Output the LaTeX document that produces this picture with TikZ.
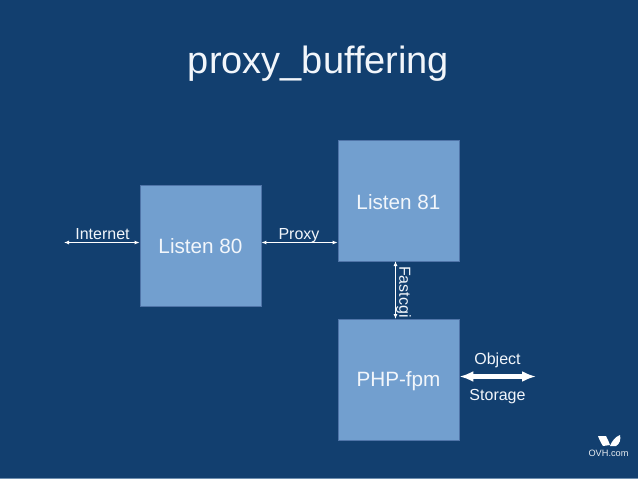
\documentclass[tikz,border=0pt]{standalone}
\usepackage{fontspec}
\setmainfont{Liberation Sans}
\usetikzlibrary{arrows.meta}
\definecolor{bgblue}{HTML}{123F6F}
\definecolor{boxfill}{HTML}{729FCF}
\definecolor{boxline}{HTML}{4F74A8}
\definecolor{txt}{HTML}{F2F6FB}
\definecolor{edge}{HTML}{6F8FAF}
\newcommand{\lowered}[2]{\raisebox{-#1pt}[12pt][12pt]{#2}}
\tikzset{
  srv/.style={draw=boxline,line width=0.8pt,fill=boxfill,minimum width=121pt,minimum height=121pt,inner sep=0pt,text=txt,font=\fontsize{20.7}{24}\selectfont},
  lbl/.style={text=txt,font=\fontsize{16}{18}\selectfont,inner sep=0pt},
  thin link/.style={draw=white,line width=0.9pt,{Latex[length=5pt,width=4pt,fill=txt!75!bgblue]}-{Latex[length=5pt,width=4pt,fill=txt!75!bgblue]}},
  fat link/.style={draw=white,line width=4.5pt,{Latex[length=14pt,width=11pt]}-{Latex[length=14pt,width=11pt]}},
}
\begin{document}
\begin{tikzpicture}[x=1pt,y=-1pt]
\useasboundingbox (0,0) rectangle (638,479);
\fill[bgblue] (0,0) rectangle (638,479);
\fill[edge] (0,478) rectangle (638,479);
\node[text=txt,font=\fontsize{38}{44}\selectfont,inner sep=0pt] (title) at (318.5,63.5) {proxy\_buffering};
\node[lbl,rotate=-90,anchor=center] (fast) at (403.5,292) {Fastcgi};
\node[srv] (l80) at (200.5,245.5) {\lowered{8}{Listen 80}};
\node[srv] (l81) at (398.5,200.5) {\lowered{9}{Listen 81}};
\node[srv] (php) at (398.5,379.5) {\lowered{6.5}{PHP-fpm}};
\coordinate (net) at (64,242.5);
\coordinate (os) at (536,376.5);
\node[lbl,anchor=base] (inet) at (102.5,239) {Internet};
\node[lbl,anchor=base] (prox) at (299,239) {Proxy};
\node[lbl,anchor=base] (obj) at (497.5,364.5) {Object};
\node[lbl,anchor=base] (stor) at (497.5,400) {Storage};
\draw[thin link] (net) -- (net -| l80.west);
\draw[thin link] (l80.east |- net) -- (l81.west |- net);
\draw[thin link] (395.5,261) -- (395.5,319);
\draw[fat link] (php.east |- os) -- (os);
\fill[white] (598,436) -- (606,436) .. controls (608,440) and (609,442) .. (610,445) -- (603,446) .. controls (601,443) and (599,439) .. (598,436) -- cycle;
\fill[white] (610,446) .. controls (612,441) and (615,437) .. (620,435) .. controls (621,439) and (620,444) .. (616,446) -- cycle;
\node[text=white!90!bgblue,font=\fontsize{9.2}{10}\selectfont,inner sep=0pt] (ovh) at (608.5,453.5) {OVH.com};
\end{tikzpicture}
\end{document}
